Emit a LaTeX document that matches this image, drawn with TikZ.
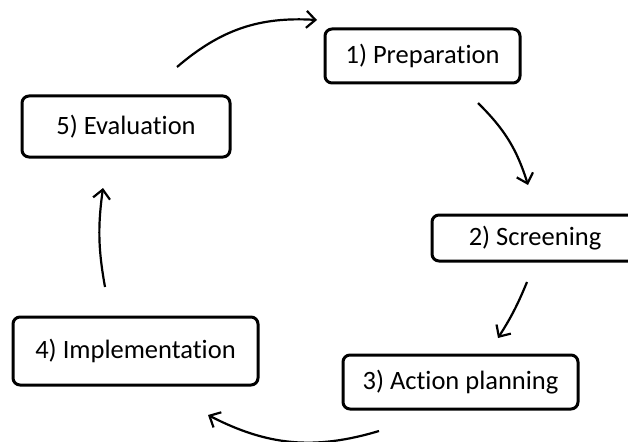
\documentclass[tikz,border=0pt]{standalone}
\usepackage{fontspec}
\setmainfont[Ligatures=NoCommon]{Carlito}
\usetikzlibrary{arrows.meta}

\tikzset{
    stage/.style={draw, line width=3pt, rounded corners=7pt, fill=white,
        inner sep=0pt, font=\fontsize{26.5}{30}\selectfont},
    flow/.style={line width=2.2pt, -{Straight Barb[length=9pt,width=17pt,line width=2.2pt]}},
}

\begin{document}
\begin{tikzpicture}[x=1pt,y=-1pt]
    \useasboundingbox (0,0) rectangle (628,441);
    \clip (0,0) rectangle (628,441);

    % the five stages
    \node[stage, minimum width=195pt, minimum height=54pt] (prep) at (422.5,56) {1) Preparation};
    \node[stage, minimum width=206pt, minimum height=46pt] (screen) at (535,238) {2) Screening};
    \node[stage, minimum width=235pt, minimum height=54pt] (action) at (460.5,382) {3) Action planning};
    \node[stage, minimum width=245pt, minimum height=68pt] (impl) at (135.5,351) {4) Implementation};
    \node[stage, minimum width=208pt, minimum height=61pt] (eval) at (126,126.5) {5) Evaluation};

    % arrow ends
    \coordinate (evalout) at (177,67);
    \coordinate (prepin) at (317,20);
    \coordinate (prepout) at (478,103);
    \coordinate (screenin) at (528,185);
    \coordinate (screenout) at (527,282);
    \coordinate (actionin) at (498,338);
    \coordinate (actionout) at (379,431);
    \coordinate (implin) at (208,415);
    \coordinate (implout) at (105,287);
    \coordinate (evalin) at (103,188);

    \draw[flow] (evalout) to[bend left=22] (prepin);
    \draw[flow] (prepout) to[bend left=14] (screenin);
    \draw[flow] (screenout) to[bend left=5] (actionin);
    \draw[flow] (actionout) to[bend left=22] (implin);
    \draw[flow] (implout) to[bend left=9] (evalin);
\end{tikzpicture}
\end{document}
